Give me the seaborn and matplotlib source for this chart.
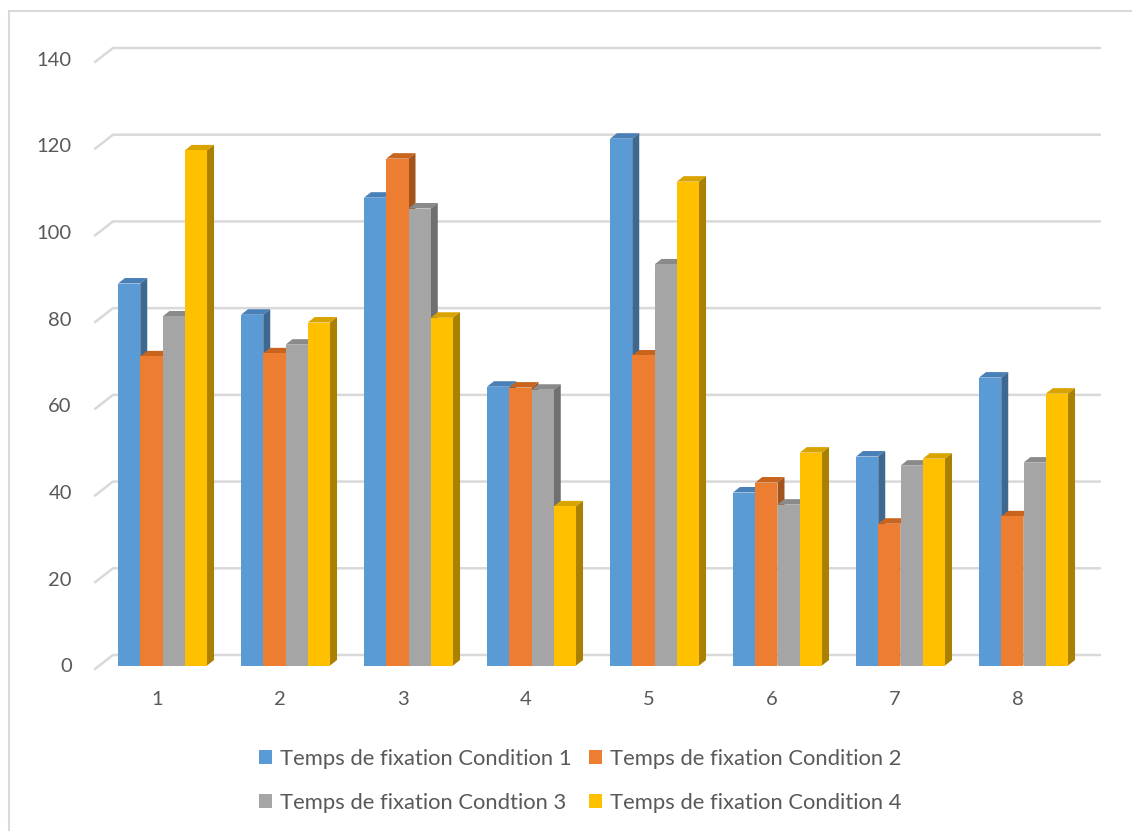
import numpy as np
import pandas as pd
import seaborn as sns
import matplotlib.pyplot as plt
from matplotlib.patches import Polygon, Patch, Rectangle
from matplotlib.lines import Line2D
from matplotlib.transforms import ScaledTranslation

participants = ['1', '2', '3', '4', '5', '6', '7', '8']
conditions = ['Temps de fixation Condition 1', 'Temps de fixation Condition 2',
              'Temps de fixation Condtion 3', 'Temps de fixation Condition 4']
cond1 = [88.1, 80.9, 107.9, 64.3, 121.5, 39.9, 48.2, 66.4]
cond2 = [71.3, 72.0, 116.9, 64.1, 71.5, 42.2, 32.7, 34.4]
cond3 = [80.5, 74.0, 105.4, 63.6, 92.5, 37.1, 46.1, 46.8]
cond4 = [118.8, 79.1, 80.2, 36.7, 111.6, 49.1, 47.7, 62.7]
yticks = [0, 20, 40, 60, 80, 100, 120, 140]

front_cols = ['#5B9BD5', '#ED7D31', '#A5A5A5', '#FFC000']
top_cols = ['#4A80B8', '#C9641F', '#8A8A8A', '#D9A300']
side_cols = ['#3E6890', '#A3541C', '#707070', '#A98000']

df = pd.DataFrame({
    'Participant': participants * 4,
    'Condition': np.repeat(conditions, 8),
    'Temps': cond1 + cond2 + cond3 + cond4,
})

sns.set_theme(style='white')
plt.rcParams['font.family'] = ['Lato', 'DejaVu Sans']
text_col = '#595959'
grid_col = '#D9D9D9'

W, H = 1132, 831
fig = plt.figure(figsize=(W / 100, H / 100), dpi=100)
ax = fig.add_axes([101 / W, 1 - 665.5 / H, 984 / W, 607 / H])

sns.barplot(data=df, x='Participant', y='Temps', hue='Condition',
            palette=front_cols, saturation=1, width=0.724, gap=0,
            errorbar=None, legend=False, ax=ax, linewidth=0)

ax.set_xlim(-0.5, 7.5)
ax.set_ylim(0, 140)
ax.set_yticks(yticks)
ax.set_xlabel('')
ax.set_ylabel('')
for s in ax.spines.values():
    s.set_visible(False)
ax.grid(False)
ax.tick_params(axis='both', length=0, labelsize=14.5, labelcolor=text_col)
ax.tick_params(axis='y', pad=21)

# category labels sit on the front plane, a little left of the bars
ax.set_xticks(range(len(participants)))
ax.set_xticklabels([])
shift = ScaledTranslation(-0.055, -0.34, fig.dpi_scale_trans)
for i, lab in enumerate(participants):
    ax.text(i, 0, lab, transform=ax.transData + shift, ha='center', va='center',
            fontsize=14.5, color=text_col)

# back wall gridlines with oblique ticks (3D look)
to_disp = ax.transData.transform
x_right = ax.transAxes.transform((1, 0))[0]
for v in yticks:
    px, py = to_disp((-0.5, v))
    fx, fy = px - 6, py - 3.5
    bx, by = px + 12, py + 10.5
    ax.add_line(Line2D([fx, bx, x_right + 15], [fy, by, by], transform=None,
                       color=grid_col, lw=1.8, zorder=0.5, clip_on=False))

# depth faces of each bar
dx, dy = 7, 5.5
bars = [p for p in ax.patches]
for i, p in enumerate(bars):
    k = i // len(participants)
    p.set_zorder(4 + 2 * k)
    x0, y0 = to_disp((p.get_x(), 0))
    x1, y1 = to_disp((p.get_x() + p.get_width(), p.get_height()))
    top = Polygon([(x0, y1), (x1, y1), (x1 + dx, y1 + dy), (x0 + dx, y1 + dy)],
                  closed=True, transform=None, facecolor=top_cols[k],
                  edgecolor='none', zorder=3 + 2 * k, clip_on=False)
    side = Polygon([(x1, y0), (x1, y1), (x1 + dx, y1 + dy), (x1 + dx, y0 + dy)],
                   closed=True, transform=None, facecolor=side_cols[k],
                   edgecolor='none', zorder=3 + 2 * k, clip_on=False)
    ax.add_patch(top)
    ax.add_patch(side)

# legend: two rows, filled row-wise
order = [0, 2, 1, 3]
handles = [Patch(facecolor=front_cols[i], edgecolor='none') for i in order]
labels = [conditions[i] for i in order]
fig.legend(handles, labels, ncol=2, loc='center', bbox_to_anchor=(580 / W, 1 - 781 / H),
           frameon=False, fontsize=15.8, labelcolor=text_col,
           handlelength=0.6, handleheight=0.6, handletextpad=0.37,
           columnspacing=0.78, labelspacing=1.1)

# chart area border
fig.add_artist(Rectangle((9 / W, -0.1), 1.2, 1 - 11 / H + 0.1, transform=fig.transFigure,
                         fill=False, edgecolor=grid_col, lw=1.5))

plt.savefig('out.png', dpi=100)
